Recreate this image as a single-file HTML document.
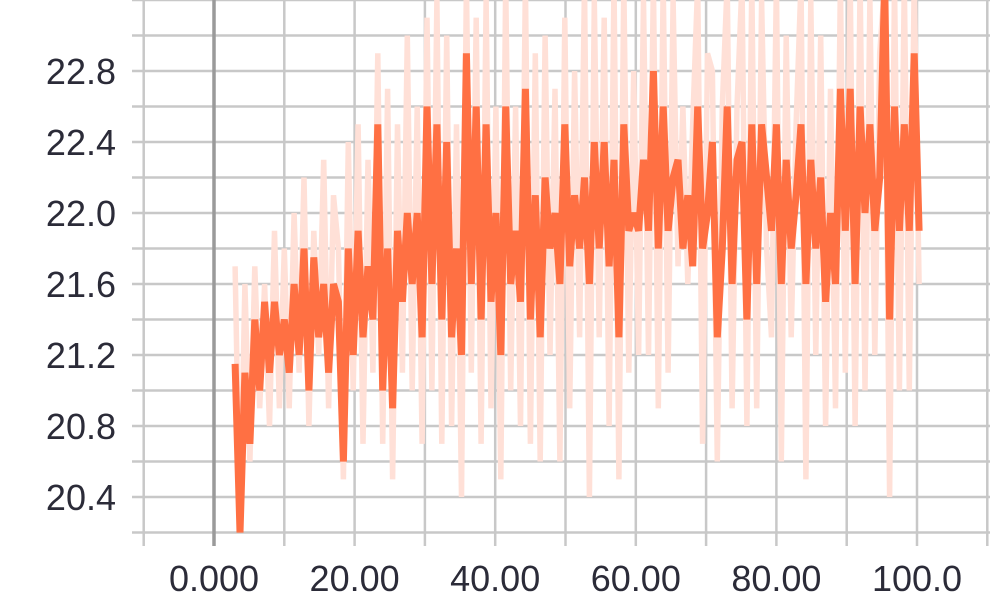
<!DOCTYPE html>
<html><head><meta charset="utf-8"><style>
html,body{margin:0;padding:0;background:#fff;}
svg{display:block;}
text{font-family:"Liberation Sans",sans-serif;fill:#2b2b38;font-size:36px;}
</style></head><body>
<svg id="chart" width="990" height="600" viewBox="0 0 990 600">
<defs><clipPath id="plotclip"><rect x="145" y="0" width="845" height="533"/></clipPath></defs>
<g id="grid"></g>
<g id="axes"></g>
<g clip-path="url(#plotclip)" id="series"></g>
</svg>
<script>
const xStart = 3, xStep = 0.7;
const smoothed = [21.15,20.2,21.1,20.7,21.4,21.0,21.5,21.1,21.5,21.2,21.4,
21.1,21.6,21.2,21.8,21.0,21.75,21.3,21.6,21.1,21.6,
21.5,20.6,21.8,21.2,21.9,21.3,21.7,21.4,22.5,21.0,
21.8,20.9,21.9,21.5,22.0,21.6,22.0,21.3,22.6,21.6,
22.5,21.4,22.4,21.3,21.8,21.2,22.9,21.6,22.6,21.4,
22.5,21.5,22.0,21.2,22.6,21.6,21.9,21.5,22.7,21.4,
22.1,21.3,22.2,21.8,22.0,21.6,22.5,21.7,22.1,21.8,
22.2,21.6,22.4,21.8,22.4,21.7,22.3,21.3,22.5,21.9,
22.0,21.9,22.3,21.9,22.8,21.8,22.6,21.9,22.2,22.3,
21.8,22.1,21.7,22.6,21.8,22.0,22.4,21.3,21.8,22.6,
21.6,22.3,22.4,21.4,22.5,21.6,22.5,22.2,21.9,22.5,
21.6,22.3,21.8,22.1,22.5,21.6,22.3,21.8,22.2,21.5,
22.0,21.6,22.7,21.9,22.7,21.6,22.6,22.0,22.5,21.9,
22.2,23.3,21.4,22.6,21.9,22.5,21.9,22.9,21.9];
const raw = [21.7,20.2,21.6,20.6,21.7,20.9,21.6,20.8,21.9,20.9,21.8,
20.9,22.0,21.1,22.2,20.8,21.9,21.2,22.3,20.9,22.1,
21.8,20.5,22.4,21.0,22.5,20.7,22.3,21.1,22.9,20.7,
22.7,20.5,22.5,21.1,23.0,21.0,22.6,20.7,23.1,21.0,
23.2,20.7,23.0,20.8,22.5,20.4,23.3,21.1,23.1,20.7,
23.2,20.9,22.6,20.5,23.3,21.0,22.6,20.8,23.3,20.7,
22.9,20.6,23.0,21.2,22.7,20.6,23.1,20.9,22.8,21.3,
23.3,20.4,23.2,21.3,23.1,20.8,23.3,20.5,23.3,21.1,
22.8,21.2,23.2,21.2,23.3,20.9,23.3,21.1,23.2,21.7,
22.6,21.6,22.5,23.3,20.7,22.9,22.8,20.6,22.6,23.3,
20.9,22.6,23.3,20.8,23.3,20.9,23.2,21.8,21.3,23.3,
20.6,23.0,21.3,22.5,23.3,20.5,23.2,21.2,23.0,20.8,
22.7,20.9,23.3,21.1,23.3,20.8,23.3,21.0,23.2,21.2,
22.9,23.3,20.4,23.3,21.0,23.3,21.0,23.3,21.6];
const yTickLabels = ["20.4","20.8","21.2","21.6","22.0","22.4","22.8"];
const xTickLabels = ["0.000","20.00","40.00","60.00","80.00","100.0"];

const NS = "http://www.w3.org/2000/svg";
function X(v){ return 214 + v * 7.03; }
function Y(v){ return 71 + (22.8 - v) * 177.5; }
function mk(tag, attrs, parent){
  const e = document.createElementNS(NS, tag);
  for (const k in attrs) e.setAttribute(k, attrs[k]);
  parent.appendChild(e); return e;
}
const grid = document.getElementById('grid');
const axes = document.getElementById('axes');
const series = document.getElementById('series');

for (let k = 0; k <= 15; k++) {
  const v = 20.2 + k * 0.2;
  const l = mk('line', {x1:132, x2:990, y1:Y(v), y2:Y(v), stroke:'#c8c8c8', 'stroke-width':2.5}, grid);
  
  
}
for (let k = -1; k <= 11; k++) {
  const v = k * 10;
  const isZero = k === 0;
  const l = mk('line', {x1:X(v), x2:X(v), y1:0, y2:546, stroke:isZero ? '#9a9a9a' : '#c8c8c8', 'stroke-width':isZero ? 3.5 : 2.5}, grid);
  
  
}
yTickLabels.forEach(s => {
  const t = mk('text', {x:116, y:Y(parseFloat(s)) + 13, 'text-anchor':'end'}, axes);
  t.textContent = s;
  
  
});
xTickLabels.forEach(s => {
  const t = mk('text', {x:X(parseFloat(s)), y:591, 'text-anchor':'middle'}, axes);
  t.textContent = s;
  
  
});
function pathFor(arr){
  return arr.map((v,i) => (i ? 'L' : 'M') + X(xStart + i*xStep).toFixed(1) + ',' + Y(v).toFixed(1)).join(' ');
}
const pr = mk('path', {d:pathFor(raw), fill:'none', stroke:'#ffe0d7', 'stroke-width':5.5, 'stroke-linejoin':'bevel'}, series);


const ps = mk('path', {d:pathFor(smoothed), fill:'none', stroke:'#ff7043', 'stroke-width':7, 'stroke-linejoin':'bevel'}, series);


</script>
</body></html>
